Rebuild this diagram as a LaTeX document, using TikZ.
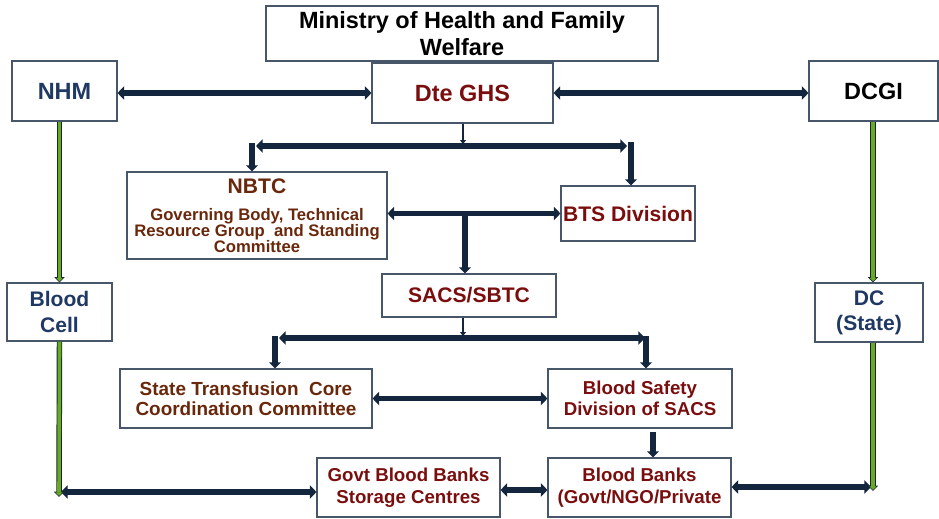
\documentclass[tikz,border=0pt]{standalone}
\usepackage{fontspec}
\setmainfont{Liberation Sans}
\usetikzlibrary{arrows.meta,calc}
\definecolor{navy}{RGB}{19,38,62}
\definecolor{lgreen}{RGB}{106,170,30}
\definecolor{redt}{RGB}{122,14,14}
\definecolor{brownt}{RGB}{105,40,12}
\definecolor{bluet}{RGB}{31,56,100}
\definecolor{bordc}{RGB}{72,86,106}
\newcommand\grnarrow[2]{%
  \draw[gout] #1 -- #2;
  \draw[gin] #1 -- #2;}
\begin{document}
\begin{tikzpicture}[x=0.75pt,y=-0.75pt,
  box/.style={draw=bordc, line width=0.8pt, fill=white, inner sep=0pt, align=center, font=\bfseries},
  sz/.style 2 args={minimum width=#1*0.75pt, minimum height=#2*0.75pt},
  fA/.style={font=\bfseries\fontsize{17.6}{20.25}\selectfont},
  fB/.style={font=\bfseries\fontsize{15.8}{19}\selectfont},
  harr/.style={draw=navy, line width=4.4pt, {Triangle[width=10pt,length=5pt]}-{Triangle[width=10pt,length=5pt]}},
  varr/.style={draw=navy, line width=4.4pt, -{Triangle[width=8.5pt,length=4.5pt]}},
  tarr/.style={draw=navy, line width=1.9pt, -{Triangle[width=4.5pt,length=3pt]}},
  gout/.style={draw=navy, line width=4.1pt, -{Triangle[width=7.5pt,length=4pt]}},
  gin/.style={draw=lgreen, line width=2.7pt, shorten >=0.9pt, -{Triangle[width=5pt,length=2.6pt]}},
]
\useasboundingbox (0,0) rectangle (939,518);
\fill[white] (0,0) rectangle (939,518);

% boxes
\node[box, fA, sz={392}{55}] (min) at (462,33.5) {Ministry of Health and Family\\Welfare};
\node[box, fA, text=bluet, sz={105}{60}] (nhm) at (64.5,91) {NHM};
\node[box, fA, text=redt, sz={181}{60}] (dte) at (462.5,93) {Dte GHS};
\node[box, fA, text=black, sz={129}{60}] (dcgi) at (873.5,91) {DCGI};
\node[box, text=brownt, sz={260}{87}] (nbtc) at (257,215.5)
  {{\fontsize{15.8}{13}\selectfont NBTC}\\[8.5pt]
   {\fontsize{12.5}{13}\selectfont Governing Body, Technical}\\
   {\fontsize{12.5}{13}\selectfont Resource Group~ and Standing}\\
   {\fontsize{12.5}{13}\selectfont Committee}};
\node[box, fB, text=redt, sz={134}{55}] (bts) at (628,213.5) {BTS Division};
\node[box, fB, text=redt, sz={174}{43}] (sacs) at (469,295.5) {SACS/SBTC};
\node[box, fB, text=bluet, sz={105}{58}] (bcell) at (59.5,312) {Blood\\Cell};
\node[box, fB, text=bluet, sz={108}{59}] (dc) at (869,312.5) {DC\\(State)};
\node[box, font=\bfseries\fontsize{14.2}{15.4}\selectfont, text=brownt, sz={252}{59}] (stcc) at (246,398.5) {State Transfusion~ Core\\Coordination Committee};
\node[box, font=\bfseries\fontsize{14}{15.8}\selectfont, text=redt, sz={184}{59}] (bsd) at (640,398.5) {Blood Safety\\Division of SACS};
\node[box, font=\bfseries\fontsize{14}{16.5}\selectfont, text=redt, sz={183}{59}] (govt) at (408.5,487.5) {Govt Blood Banks\\Storage Centres};
\node[box, font=\bfseries\fontsize{14}{16.5}\selectfont, text=redt, sz={183}{59}] (bb) at (639.5,487.5) {Blood Banks\\(Govt/NGO/Private};

% coordinates
\coordinate (j1) at (463,144);
\coordinate (bL) at (252,143);
\coordinate (bR) at (631,142);
\coordinate (hL) at (256,146);
\coordinate (hR) at (627,146);
\coordinate (j2) at (465,212);
\coordinate (j3) at (463,336);
\coordinate (h2L) at (279,338);
\coordinate (h2R) at (645,338);
\coordinate (v2L) at (275,336);
\coordinate (v2R) at (646,336);
\coordinate (k1) at (653,432);
\coordinate (gLb) at (59,497);
\coordinate (gL2) at (61,492);
\coordinate (gx) at (873,0);
\coordinate (gRb) at (873,491);
\coordinate (gR2) at (871,487);
\coordinate (gb) at (0,490);

% navy connectors
\draw[harr] (nhm.east |- dte.west) -- (dte.west);
\draw[harr] (dte.east) -- (dte.east -| dcgi.west);
\draw[tarr] (dte.south -| j1) -- (j1);
\draw[harr] (hL) -- (hR);
\draw[varr] (bL) -- (bL |- nbtc.north);
\draw[varr] (bR) -- (bR |- bts.north);
\draw[harr] (nbtc.east |- bts.west) -- (bts.west);
\draw[varr] (j2) -- (j2 |- sacs.north);
\draw[tarr] (sacs.south -| j3) -- (j3);
\draw[harr] (h2L) -- (h2R);
\draw[varr] (v2L) -- (v2L |- stcc.north);
\draw[varr] (v2R) -- (v2R |- bsd.north);
\draw[harr] (stcc.east) -- (stcc.east -| bsd.west);
\draw[varr] (k1) -- (k1 |- bb.north);
\draw[harr] (govt.east |- gb) -- (bb.west |- gb);
\draw[harr] (gL2) -- (gL2 -| govt.west);
\draw[harr] (bb.east |- gR2) -- (gR2);

% green connectors
\grnarrow{(bcell.north |- nhm.south)}{(bcell.north)}
\grnarrow{(bcell.south)}{(gLb)}
\grnarrow{(gx |- dcgi.south)}{(gx |- dc.north)}
\grnarrow{(gx |- dc.south)}{(gRb)}
\end{tikzpicture}
\end{document}
